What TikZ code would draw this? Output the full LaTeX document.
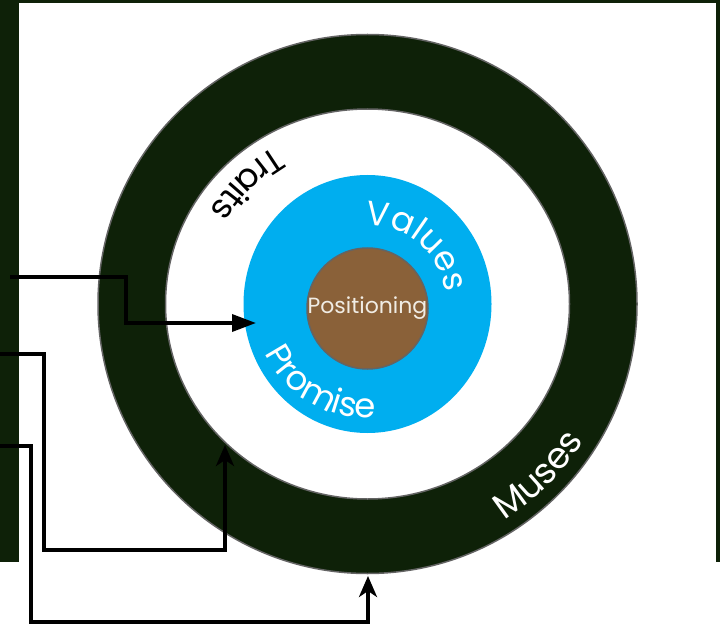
\documentclass[tikz,border=0pt]{standalone}
\usepackage{fontspec}
\setmainfont{Poppins}
\usetikzlibrary{arrows.meta,decorations.text}
\definecolor{ringgreen}{RGB}{14,33,8}
\definecolor{valblue}{RGB}{0,174,239}
\definecolor{corebrown}{RGB}{138,97,57}
\definecolor{edgegray}{RGB}{100,100,100}
\definecolor{coretext}{RGB}{240,236,228}

\begin{document}
\begin{tikzpicture}[x=1pt, y=1pt, >=Stealth,
    feed/.style={line width=3.5pt},
    upfeed/.style={feed, -{Stealth[length=21pt, width=18pt, inset=6pt]}},
    ringtext/.style={decorate, decoration={text along path, text align=center}}]
        \useasboundingbox (0,0) rectangle (720,625);
        % Khung nền
        \fill[ringgreen] (0,63) rectangle (720,625);
        \fill[white] (19,0) rectangle (716,622);
        % Tâm
        \coordinate (O) at (367.5,321);
        % Vòng ngoài (Muses / Traits)
        \draw[edgegray, line width=1.5pt, fill=ringgreen] (O) circle[radius=269.5];
        \draw[edgegray, line width=1.5pt, fill=white] (O) ellipse[x radius=202, y radius=195];
        % Vòng giữa (Values / Promise)
        \fill[valblue] (O) ellipse[x radius=124, y radius=129];
        % Lõi
        \node[circle, draw=edgegray, line width=1.5pt, fill=corebrown,
              minimum size=121pt, inner sep=0pt] (core) at (367.5,316.5) {};
        \node[text=coretext, font=\fontsize{22}{22}\selectfont] (pos) at (core) {Positioning};
        % Chữ chạy theo vòng
        \path[ringtext, decoration={text={|\fontsize{34}{34}\selectfont|Traits}}]
            (O) ++(100:183) arc[start angle=100, end angle=170, radius=183];
        \path[ringtext, decoration={text color=white, text={|\fontsize{34}{34}\selectfont|Values}}]
            (O) ++(95:79) arc[start angle=95, end angle=5, radius=79];
        \path[ringtext, decoration={text color=white, text={|\fontsize{34}{34}\selectfont|Promise}}]
            (O) ++(190:114) arc[start angle=190, end angle=290, radius=114];
        \path[ringtext, decoration={text color=white, text={|\fontsize{36}{36}\selectfont|Muses}}]
            (O) ++(-78:256) arc[start angle=-78, end angle=-12, radius=256];
        % Đầu và cuối mũi tên
        \coordinate (in1) at (10,348);
        \coordinate (in2) at (0,271);
        \coordinate (in3) at (0,179);
        \coordinate (tip1) at (256,302);
        \coordinate (tip2) at (225,180);
        \coordinate (tip3) at (368,49);
        % Mũi tên
        \draw[feed, -{Triangle[length=24pt, width=17pt]}] (in1) -| (126,302) -- (tip1);
        \draw[upfeed] (in2) -| (44,75) -| (tip2);
        \draw[upfeed] (in3) -| (31,3) -| (tip3);
    \end{tikzpicture}
\end{document}
